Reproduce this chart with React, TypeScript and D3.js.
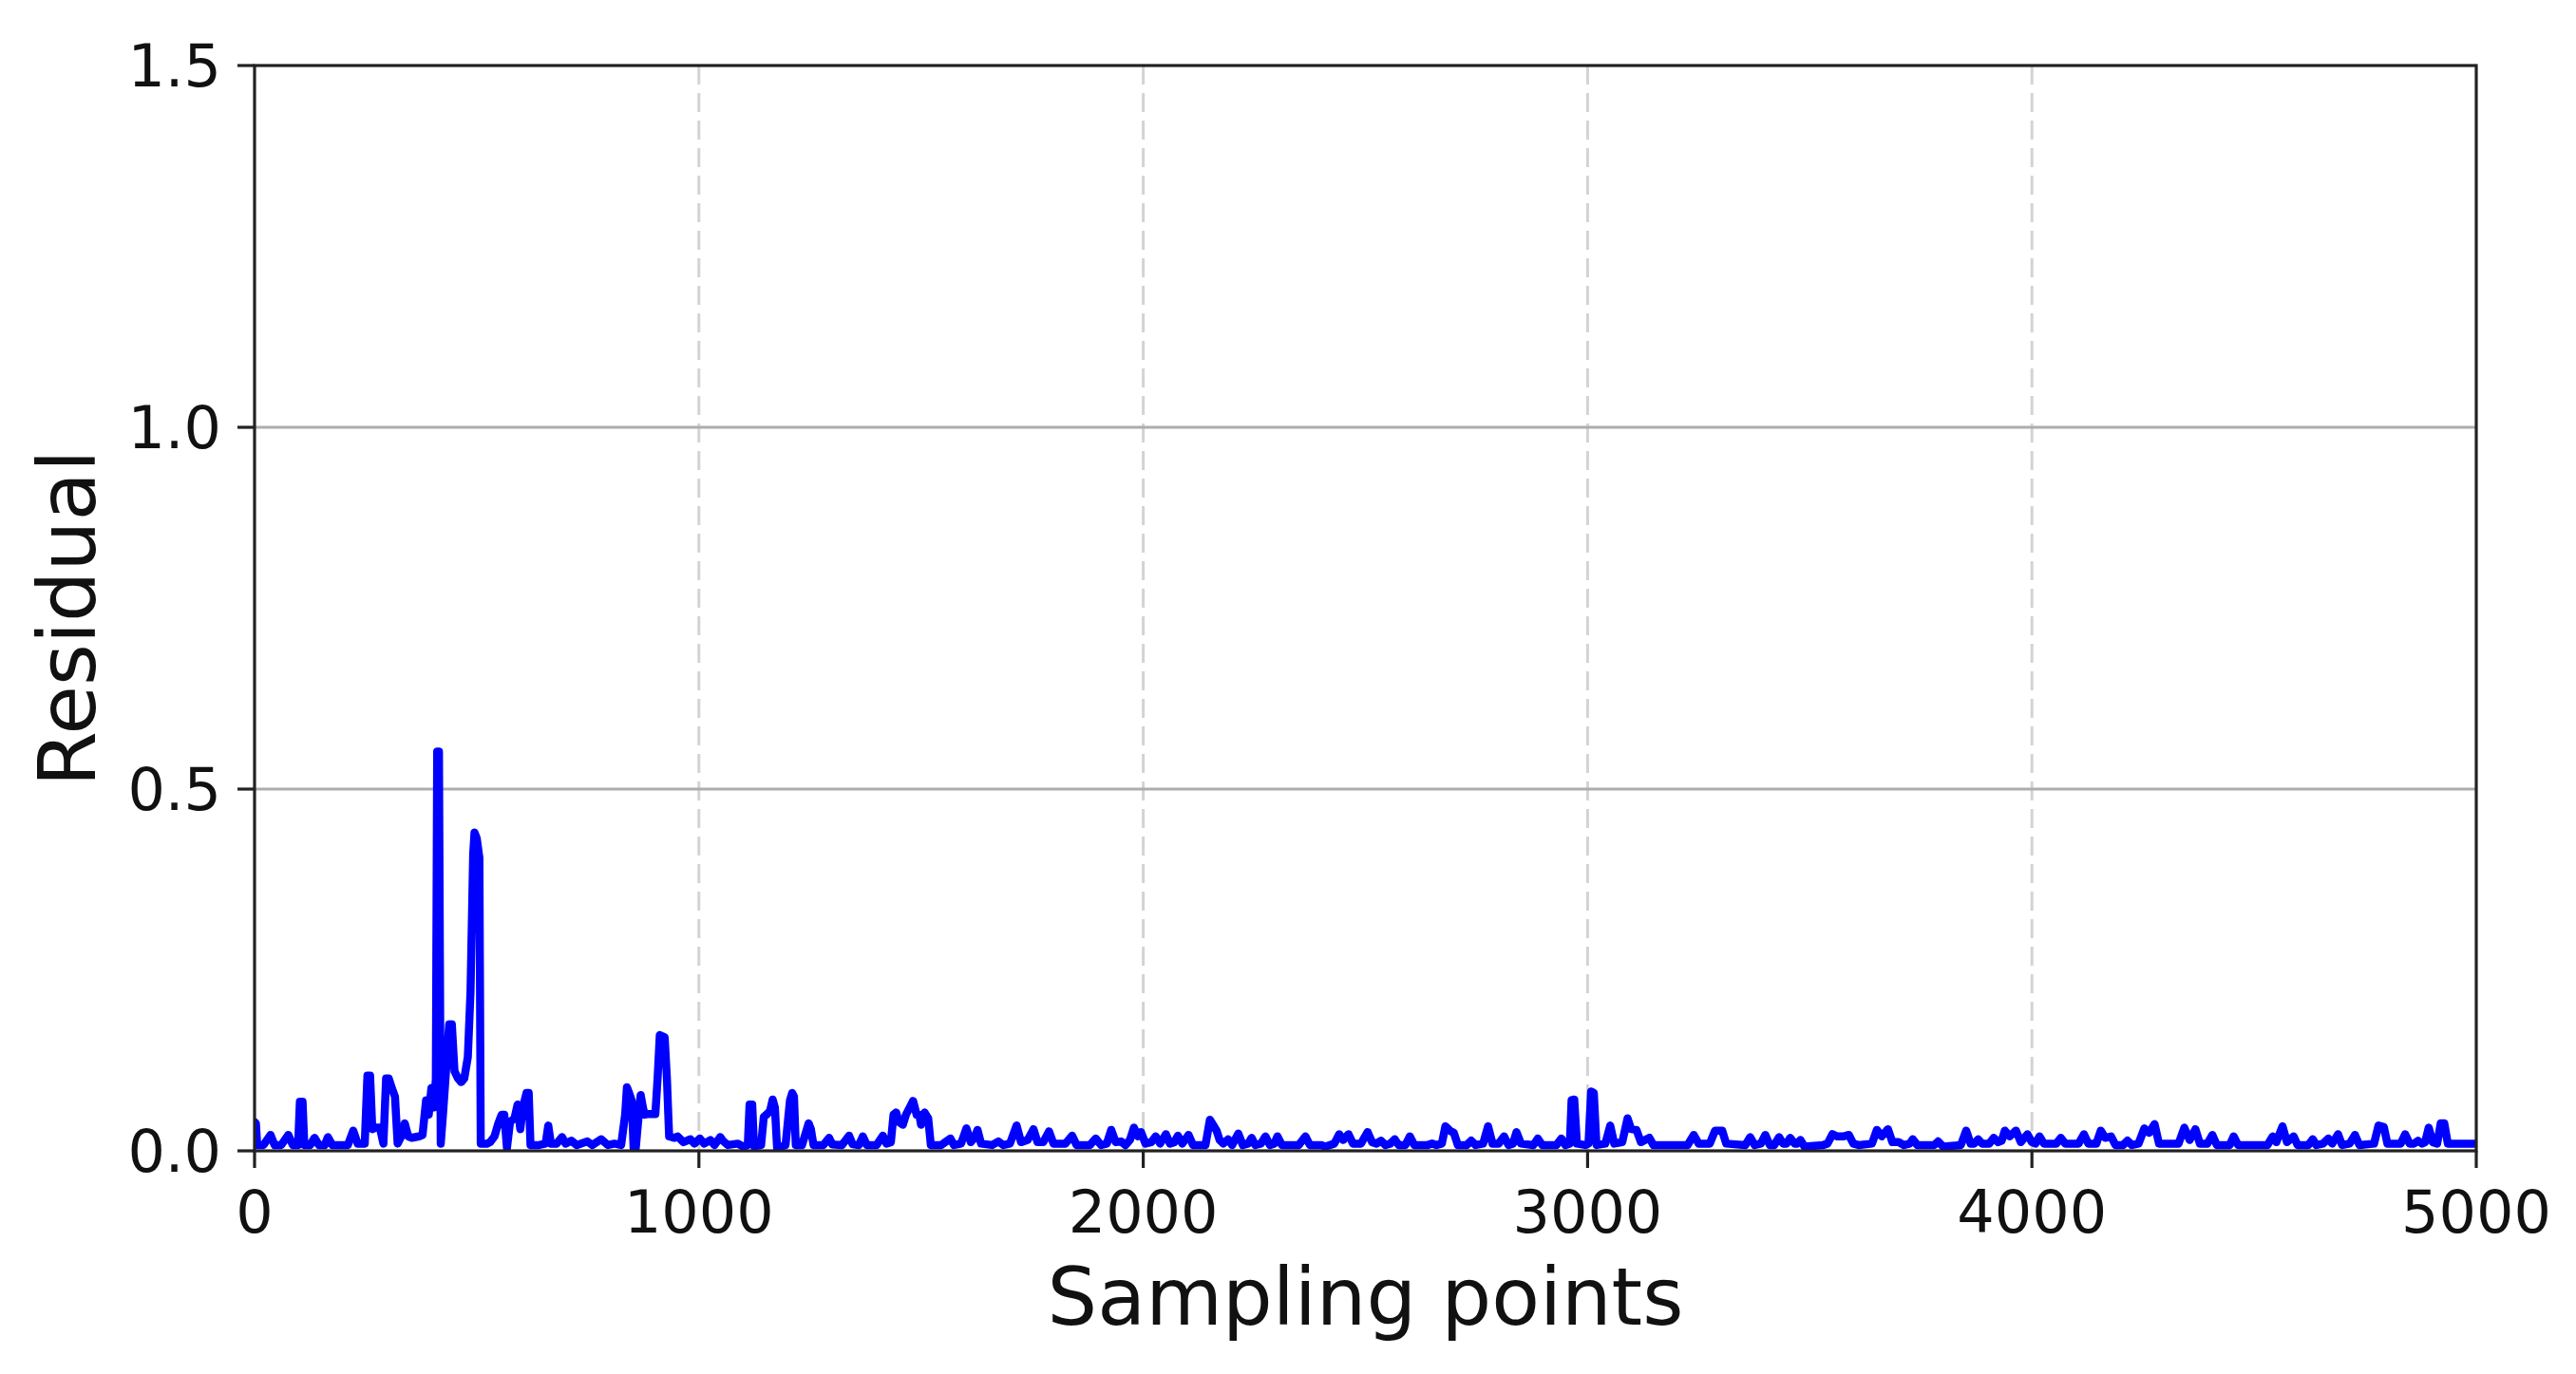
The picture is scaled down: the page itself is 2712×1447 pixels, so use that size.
import React from "react";
import * as d3 from "d3";

const xTicks = [0, 1000, 2000, 3000, 4000, 5000];
const yTicks = [0.0, 0.5, 1.0, 1.5];
const xLabel = "Sampling points";
const yLabel = "Residual";

// [sampling point, residual]
const residualSeries: [number, number][] = [
  [0, 0.04], [3, 0.038], [6, 0.008], [20, 0.008], [36, 0.022], [45, 0.008], [60, 0.008], [76, 0.022], [86, 0.008],
  [98, 0.008], [102, 0.068], [108, 0.068], [112, 0.008], [125, 0.008], [135, 0.018], [145, 0.008], [158, 0.008],
  [165, 0.019], [175, 0.008], [210, 0.008], [222, 0.028], [232, 0.01], [248, 0.01], [254, 0.104], [260, 0.104],
  [265, 0.03], [272, 0.032], [282, 0.032], [290, 0.01], [296, 0.1], [302, 0.1], [310, 0.085], [316, 0.075],
  [322, 0.01], [330, 0.02], [338, 0.038], [346, 0.02], [354, 0.018], [370, 0.02], [378, 0.022], [386, 0.07],
  [392, 0.05], [398, 0.087], [404, 0.06], [408, 0.1], [411, 0.552], [415, 0.552], [419, 0.01], [424, 0.05],
  [432, 0.12], [438, 0.175], [444, 0.175], [450, 0.11], [458, 0.1], [465, 0.095], [472, 0.1], [480, 0.13],
  [486, 0.22], [492, 0.41], [495, 0.44], [500, 0.432], [506, 0.405], [509, 0.01], [524, 0.01], [530, 0.012],
  [540, 0.02], [548, 0.037], [556, 0.05], [562, 0.05], [568, 0.004], [575, 0.04], [585, 0.045], [592, 0.064],
  [598, 0.03], [604, 0.06], [612, 0.08], [617, 0.08], [621, 0.008], [640, 0.008], [655, 0.01], [661, 0.035],
  [667, 0.01], [680, 0.01], [692, 0.019], [700, 0.01], [713, 0.014], [725, 0.008], [749, 0.013], [760, 0.008],
  [780, 0.016], [795, 0.008], [810, 0.01], [825, 0.008], [834, 0.05], [838, 0.088], [843, 0.08], [849, 0.069],
  [853, 0.004], [858, 0.004], [866, 0.06], [869, 0.077], [874, 0.06], [878, 0.05], [886, 0.051], [902, 0.051],
  [907, 0.1], [912, 0.16], [923, 0.157], [928, 0.1], [933, 0.02], [945, 0.018], [952, 0.02], [965, 0.012],
  [981, 0.016], [990, 0.01], [1002, 0.017], [1012, 0.01], [1026, 0.015], [1035, 0.008], [1048, 0.019],
  [1054, 0.014], [1065, 0.008], [1087, 0.01], [1100, 0.006], [1110, 0.008], [1114, 0.064], [1120, 0.064],
  [1124, 0.006], [1140, 0.008], [1146, 0.047], [1152, 0.05], [1160, 0.055], [1166, 0.071], [1171, 0.06],
  [1176, 0.004], [1195, 0.008], [1205, 0.07], [1210, 0.08], [1214, 0.075], [1218, 0.008], [1232, 0.008],
  [1247, 0.038], [1252, 0.03], [1258, 0.008],
  [1280, 0.008], [1293, 0.018], [1300, 0.009], [1322, 0.008], [1338, 0.021], [1346, 0.009], [1360, 0.008],
  [1369, 0.02], [1378, 0.008], [1400, 0.008], [1414, 0.021], [1422, 0.01], [1432, 0.012], [1438, 0.05],
  [1444, 0.053], [1450, 0.04], [1459, 0.036], [1466, 0.05], [1482, 0.069], [1490, 0.05], [1496, 0.05],
  [1500, 0.036], [1508, 0.053], [1516, 0.045], [1522, 0.008], [1545, 0.008], [1566, 0.017], [1574, 0.008],
  [1590, 0.01], [1602, 0.031], [1612, 0.012], [1620, 0.018], [1627, 0.029], [1635, 0.01], [1660, 0.008],
  [1674, 0.013], [1685, 0.008], [1700, 0.01], [1715, 0.035], [1725, 0.012], [1740, 0.015], [1753, 0.03],
  [1762, 0.012], [1775, 0.012], [1788, 0.027], [1798, 0.01], [1825, 0.01], [1840, 0.021], [1850, 0.008],
  [1880, 0.008], [1893, 0.017], [1905, 0.008], [1918, 0.01], [1928, 0.029], [1938, 0.012], [1950, 0.013],
  [1960, 0.008], [1970, 0.015], [1979, 0.032], [1988, 0.02], [1995, 0.026], [2005, 0.01], [2018, 0.012],
  [2028, 0.02], [2038, 0.01], [2051, 0.023], [2060, 0.01], [2070, 0.012], [2078, 0.021], [2088, 0.01],
  [2102, 0.022], [2112, 0.008], [2140, 0.008], [2150, 0.043], [2158, 0.035], [2165, 0.028], [2172, 0.015],
  [2180, 0.01], [2191, 0.016], [2200, 0.008],
  [2214, 0.024], [2224, 0.008], [2236, 0.01], [2244, 0.018], [2252, 0.008], [2265, 0.01], [2275, 0.02],
  [2285, 0.008], [2295, 0.01], [2302, 0.02], [2312, 0.008], [2350, 0.008], [2365, 0.02], [2375, 0.008],
  [2400, 0.008], [2410, 0.006], [2430, 0.01], [2441, 0.023], [2450, 0.015], [2462, 0.023], [2472, 0.01],
  [2490, 0.01], [2505, 0.026], [2515, 0.012], [2525, 0.01], [2535, 0.014], [2545, 0.008], [2556, 0.01],
  [2566, 0.016], [2575, 0.008], [2590, 0.008], [2600, 0.02], [2610, 0.008], [2640, 0.008], [2650, 0.01],
  [2660, 0.008], [2672, 0.01], [2680, 0.034], [2690, 0.028], [2699, 0.025], [2708, 0.008], [2728, 0.008],
  [2738, 0.014], [2748, 0.008], [2765, 0.01], [2776, 0.034], [2786, 0.01], [2800, 0.01], [2812, 0.02],
  [2822, 0.008], [2832, 0.01], [2840, 0.026], [2850, 0.01], [2878, 0.008], [2888, 0.017], [2898, 0.008],
  [2930, 0.008], [2941, 0.017], [2950, 0.008], [2960, 0.01], [2964, 0.07], [2970, 0.071], [2976, 0.01],
  [2995, 0.008], [3002, 0.01], [3008, 0.082], [3014, 0.08], [3020, 0.008], [3040, 0.01], [3051, 0.035],
  [3060, 0.01], [3078, 0.012], [3090, 0.045], [3098, 0.03], [3110, 0.029], [3120, 0.012], [3139, 0.018],
  [3148, 0.008],
  [3200, 0.008], [3225, 0.008], [3239, 0.022], [3250, 0.01], [3275, 0.01], [3287, 0.028], [3303, 0.028],
  [3312, 0.01], [3355, 0.008], [3366, 0.019], [3376, 0.008], [3390, 0.01], [3400, 0.022], [3410, 0.008],
  [3420, 0.008], [3431, 0.019], [3440, 0.01], [3448, 0.01], [3456, 0.018], [3466, 0.01], [3472, 0.01],
  [3479, 0.015], [3488, 0.006], [3530, 0.008], [3540, 0.01], [3551, 0.023], [3562, 0.02], [3575, 0.02],
  [3588, 0.022], [3598, 0.01], [3610, 0.008], [3640, 0.01], [3651, 0.029], [3662, 0.02], [3676, 0.03],
  [3686, 0.012], [3700, 0.012], [3712, 0.008], [3725, 0.01], [3732, 0.016], [3742, 0.008], [3780, 0.008],
  [3789, 0.013], [3800, 0.006], [3840, 0.008], [3852, 0.028], [3862, 0.01], [3870, 0.01], [3879, 0.016],
  [3888, 0.01], [3904, 0.01], [3914, 0.018], [3924, 0.012], [3932, 0.014], [3939, 0.028], [3950, 0.02],
  [3964, 0.028], [3975, 0.012], [3990, 0.023], [4000, 0.012], [4008, 0.01], [4017, 0.02], [4027, 0.01],
  [4055, 0.01], [4065, 0.018], [4075, 0.01], [4105, 0.01], [4117, 0.023], [4127, 0.01], [4145, 0.01],
  [4155, 0.028], [4165, 0.018], [4178, 0.02], [4188, 0.008], [4205, 0.008], [4215, 0.014], [4225, 0.008],
  [4240, 0.01], [4253, 0.031], [4264, 0.025], [4276, 0.037], [4286, 0.01], [4330, 0.01], [4343, 0.032],
  [4355, 0.015], [4368, 0.03], [4378, 0.01], [4395, 0.01], [4406, 0.022], [4416, 0.008], [4445, 0.008],
  [4454, 0.02], [4464, 0.008], [4530, 0.008], [4542, 0.02], [4550, 0.012], [4564, 0.034], [4574, 0.012],
  [4589, 0.02], [4598, 0.008], [4622, 0.008], [4632, 0.016], [4640, 0.008], [4655, 0.01], [4667, 0.017],
  [4676, 0.01], [4689, 0.023], [4698, 0.008], [4715, 0.01], [4727, 0.022], [4737, 0.008], [4770, 0.01],
  [4780, 0.035], [4792, 0.033], [4800, 0.01], [4830, 0.01], [4840, 0.023], [4850, 0.01], [4860, 0.01],
  [4869, 0.014], [4878, 0.01], [4885, 0.012], [4893, 0.032], [4902, 0.012], [4912, 0.01], [4920, 0.038],
  [4928, 0.038], [4936, 0.01], [4960, 0.01], [5000, 0.01],
];

const W = 2712;
const H = 1447;
const M = { left: 268, right: 2607, top: 69, bottom: 1212 };
const FONT = "'DejaVu Sans', 'Liberation Sans', sans-serif";

export default function App() {
  const x = d3.scaleLinear().domain([0, 5000]).range([M.left, M.right]);
  const y = d3.scaleLinear().domain([0, 1.5]).range([M.bottom, M.top]);
  const line = d3
    .line<[number, number]>()
    .x((d) => x(d[0]))
    .y((d) => y(d[1]));

  return (
    <svg
      width={W}
      height={H}
      viewBox={`0 0 ${W} ${H}`}
      style={{ position: "absolute", left: 0, top: 0, display: "block", background: "#fff" }}
    >
      <rect x={0} y={0} width={W} height={H} fill="#fff" />
      {xTicks
        .filter((t) => t > 0 && t < 5000)
        .map((t) => (
          <line
            key={`vx${t}`}
            x1={x(t)}
            x2={x(t)}
            y1={M.top}
            y2={M.bottom}
            stroke="#d3d3d3"
            strokeWidth={3}
            strokeDasharray="20 9"
          />
        ))}
      {yTicks
        .filter((t) => t > 0 && t < 1.5)
        .map((t) => (
          <line
            key={`hy${t}`}
            x1={M.left}
            x2={M.right}
            y1={y(t)}
            y2={y(t)}
            stroke="#adadad"
            strokeWidth={3}
          />
        ))}
      <clipPath id="plotclip">
        <rect x={M.left} y={M.top} width={M.right - M.left} height={M.bottom - M.top} />
      </clipPath>
      <path
        d={line(residualSeries) || ""}
        fill="none"
        stroke="#0000ff"
        strokeWidth={8.5}
        strokeLinejoin="round"
        strokeLinecap="round"
        clipPath="url(#plotclip)"
      />
      <rect
        x={M.left}
        y={M.top}
        width={M.right - M.left}
        height={M.bottom - M.top}
        fill="none"
        stroke="#222"
        strokeWidth={3.2}
      />
      {xTicks.map((t) => (
        <g key={`xt${t}`}>
          <line x1={x(t)} x2={x(t)} y1={M.bottom} y2={M.bottom + 18} stroke="#222" strokeWidth={3.2} />
          <text x={x(t)} y={1298} textAnchor="middle" fontFamily={FONT} fontSize={62} fill="#111">
            {t}
          </text>
        </g>
      ))}
      {yTicks.map((t) => (
        <g key={`yt${t}`}>
          <line x1={M.left - 18} x2={M.left} y1={y(t)} y2={y(t)} stroke="#222" strokeWidth={3.2} />
          <text x={233} y={y(t) + 22} textAnchor="end" fontFamily={FONT} fontSize={62} fill="#111">
            {t.toFixed(1)}
          </text>
        </g>
      ))}
      <text
        x={(M.left + M.right) / 2}
        y={1395}
        textAnchor="middle"
        fontFamily={FONT}
        fontSize={83}
        fill="#111"
      >
        {xLabel}
      </text>
      <text
        transform={`translate(100, 651) rotate(-90)`}
        textAnchor="middle"
        fontFamily={FONT}
        fontSize={84}
        fill="#111"
      >
        {yLabel}
      </text>
    </svg>
  );
}
